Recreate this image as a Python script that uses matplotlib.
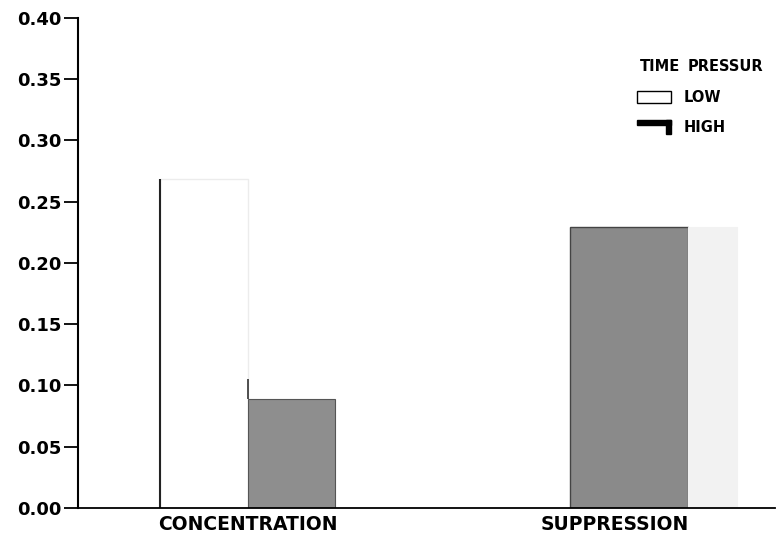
import matplotlib
matplotlib.use("Agg")
import matplotlib.pyplot as plt
import numpy as np

# values
categories = ["CONCENTRATION", "SUPPRESSION"]
low_vals = [0.268, 0.229]
high_vals = [0.089, 0.229]
yticks = [0.00, 0.05, 0.10, 0.15, 0.20, 0.25, 0.30, 0.35, 0.40]

plt.rcParams['font.family'] = ['DejaVu Sans']
plt.rcParams['font.weight'] = 'bold'

fig = plt.figure(figsize=(7.8, 5.38), dpi=100)
ax = fig.add_axes([0.1, 0.056, 0.894, 0.911])

x = np.arange(len(categories))
# bar layout as it comes out in the scan (bars are uneven in the original)
low_left = x + np.array([-0.240, -0.123])
low_w = np.array([0.240, 0.322])
high_left = x + np.array([0.0, 0.199])
high_w = np.array([0.237, 0.133])

ax.bar(low_left, low_vals, low_w, align='edge', color=["white", "#8a8a8a"],
       edgecolor=["#ececec", "#444444"], linewidth=1.0, label="LOW")
ax.bar(high_left, high_vals, high_w, align='edge', color=["#8e8e8e", "#f2f2f2"],
       edgecolor=["#555555", "#f2f2f2"], linewidth=0.8, label="HIGH")
# dark left edge of the white bar
ax.vlines(low_left[0], 0, low_vals[0], color="#222222", linewidth=1.5)
ax.vlines(high_left[0], high_vals[0], 0.105, color="#333333", linewidth=1.2)

ax.set_xlim(-0.463, 1.436)
ax.set_ylim(0, 0.40)
ax.set_yticks(yticks)
ax.set_yticklabels(["%.2f" % t for t in yticks], fontsize=13, fontweight='bold')
ax.set_xticks(x)
ax.set_xticklabels(categories, fontsize=13.5, fontweight='bold')
ax.tick_params(axis='x', length=0, pad=5)
ax.tick_params(axis='y', length=10, width=1.3, pad=2, direction='out')

for s in ["top", "right"]:
    ax.spines[s].set_visible(False)
ax.spines["left"].set_linewidth(1.5)
ax.spines["bottom"].set_linewidth(1.3)

# legend drawn as text + patches in axes coordinates
ax.text(0.806, 0.9, "TIME", transform=ax.transAxes, fontsize=10.5,
        fontweight='bold', va='center')
ax.text(0.874, 0.9, "PRESSUR", transform=ax.transAxes, fontsize=10.5,
        fontweight='bold', va='center')
ax.add_patch(plt.Rectangle((0.801, 0.826), 0.049, 0.024, transform=ax.transAxes,
                           facecolor="white", edgecolor="black", linewidth=1.0))
ax.add_patch(plt.Rectangle((0.801, 0.782), 0.049, 0.009, transform=ax.transAxes,
                           facecolor="black", edgecolor="black"))
ax.add_patch(plt.Rectangle((0.843, 0.762), 0.007, 0.029, transform=ax.transAxes,
                           facecolor="black", edgecolor="black"))
ax.text(0.868, 0.837, "LOW", transform=ax.transAxes, fontsize=10.5,
        fontweight='bold', va='center')
ax.text(0.868, 0.777, "HIGH", transform=ax.transAxes, fontsize=10.5,
        fontweight='bold', va='center')

fig.savefig("out.png", dpi=100)
